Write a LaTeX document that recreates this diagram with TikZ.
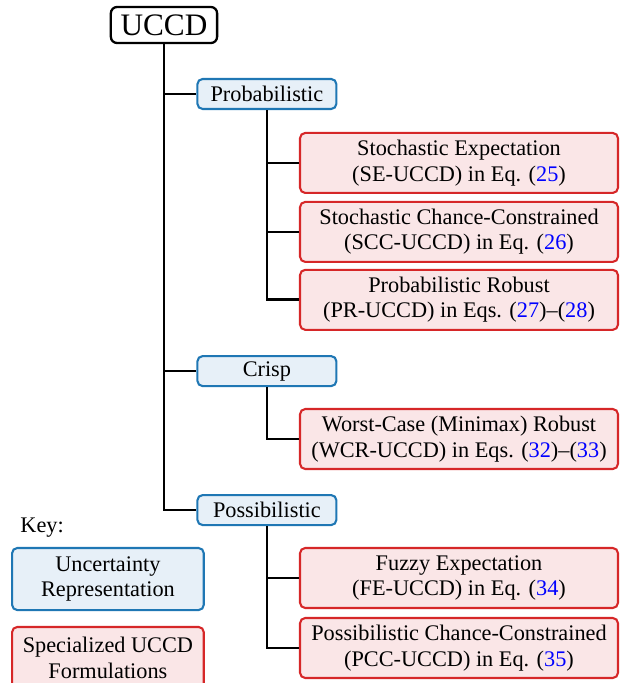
\documentclass[tikz,border=0pt]{standalone}
\usepackage{fontspec}
\setmainfont{Liberation Serif}
\usepackage{xcolor}
\usepackage{tikz}
\usetikzlibrary{positioning}
\definecolor{uncblue}{RGB}{31,119,180}
\definecolor{uncfill}{RGB}{231,240,248}
\definecolor{formred}{RGB}{214,39,40}
\definecolor{formfill}{RGB}{250,230,231}
\newcommand{\eqnum}[1]{(\textcolor{blue}{#1})}

\begin{document}
\begin{tikzpicture}[on grid,font=\fontsize{10.7}{12.2}\selectfont,
   rootbox/.style={draw,line width=1.1pt,rounded corners=3pt,minimum width=51pt,minimum height=17.3pt,inner sep=1pt,font=\fontsize{15}{18}\selectfont},
   kindbox/.style={draw=uncblue,fill=uncfill,line width=1pt,rounded corners=2.5pt,minimum width=66.7pt,minimum height=14.4pt,inner sep=1pt},
   formbox/.style={draw=formred,fill=formfill,line width=1pt,rounded corners=2.5pt,minimum width=152.6pt,minimum height=28.8pt,inner sep=1pt,align=center},
   keybox/.style={line width=1pt,rounded corners=2.5pt,minimum width=92pt,minimum height=29.8pt,inner sep=1pt,align=center},
   branch/.style={line width=1.3pt}]
   \useasboundingbox (0,0) rectangle (301pt,-327.8pt);
   \node[rootbox] (uccd) at (78.7pt,-12pt) {UCCD};
   \node[kindbox] (prob) [below right=33.1pt and 49.4pt of uccd] {Probabilistic};
   \node[kindbox] (crisp) [below=133pt of prob] {Crisp};
   \node[kindbox] (poss) [below=66.7pt of crisp] {Possibilistic};
   % probabilistic formulations
   \node[formbox] (se) [below right=33.1pt and 92.2pt of prob] {Stochastic Expectation\\(SE-UCCD) in Eq. \eqnum{25}};
   \node[formbox] (scc) [below=33.1pt of se] {Stochastic Chance-Constrained\\(SCC-UCCD) in Eq. \eqnum{26}};
   \node[formbox] (pr) [below=32.6pt of scc] {Probabilistic Robust\\(PR-UCCD) in Eqs. \eqnum{27}--\eqnum{28}};
   % crisp formulation
   \node[formbox] (wcr) [below right=32.6pt and 92.2pt of crisp] {Worst-Case (Minimax) Robust\\(WCR-UCCD) in Eqs. \eqnum{32}--\eqnum{33}};
   % possibilistic formulations
   \node[formbox] (fe) [below right=32.6pt and 92.2pt of poss] {Fuzzy Expectation\\(FE-UCCD) in Eq. \eqnum{34}};
   \node[formbox] (pcc) [below=33.6pt of fe] {Possibilistic Chance-Constrained\\(PCC-UCCD) in Eq. \eqnum{35}};
   % key
   \node[anchor=west,inner sep=0pt] (key) at (9.6pt,-253.4pt) {Key:};
   \node[keybox,draw=uncblue,fill=uncfill] (keyunc) at (51.8pt,-277.9pt) {Uncertainty\\Representation};
   \node[keybox,draw=formred,fill=formfill] (keyform) [below=37.9pt of keyunc] {Specialized UCCD\\Formulations};
   \foreach \k in {prob,crisp,poss}
      \draw[branch] (uccd.south) |- (\k.west);
   \foreach \f in {se,scc,pr}
      \draw[branch] (prob.south) |- (\f.west);
   \draw[branch] (crisp.south) |- (wcr.west);
   \foreach \f in {fe,pcc}
      \draw[branch] (poss.south) |- (\f.west);
\end{tikzpicture}
\end{document}
